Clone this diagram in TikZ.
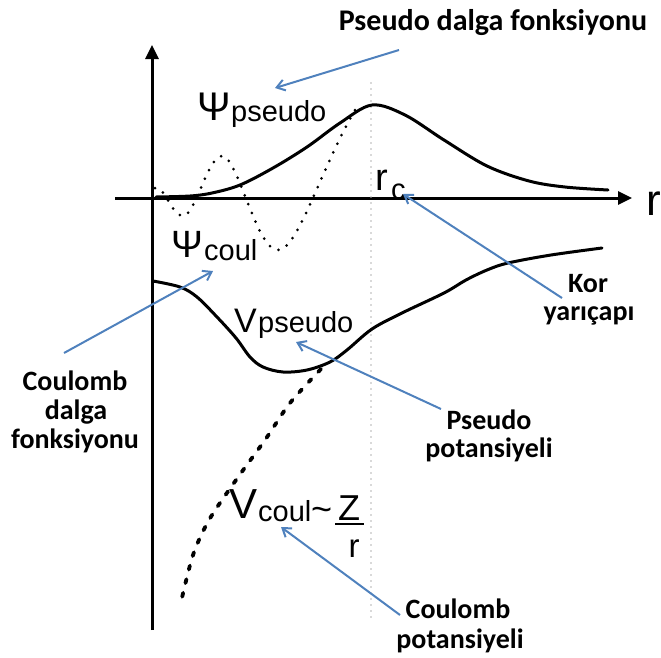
\documentclass[tikz,border=0pt]{standalone}
\usepackage{fontspec}
\setmainfont{Carlito}
\newfontfamily\arialf{Liberation Sans}
\usetikzlibrary{arrows.meta}
\definecolor{bl}{RGB}{79,129,189}
\begin{document}
\begin{tikzpicture}[x=1pt,y=-1pt,
  ax/.style={line width=3pt,-{Triangle[length=14pt,width=13pt]}},
  curve/.style={line width=3pt,line join=round,line cap=round},
  dotc/.style={line width=3pt,line cap=round,dash pattern=on 0pt off 9.5pt},
  dashc/.style={line width=3.8pt,line cap=round,dash pattern=on 4pt off 10pt},
  rcline/.style={gray!60,line width=1.6pt,line cap=round,dash pattern=on 0pt off 6pt},
  ptr/.style={draw=bl,line width=2pt,-{Straight Barb[length=8pt,width=11pt]}},
  lbl/.style={font=\fontsize{28}{30}\selectfont\bfseries,inner sep=0pt,anchor=base},
  sym/.style={font=\arialf\fontsize{40}{40}\selectfont,inner sep=0pt,anchor=base west},
  symv/.style={font=\arialf\fontsize{34}{34}\selectfont,inner sep=0pt,anchor=base west},
  sub/.style={font=\arialf\fontsize{29}{29}\selectfont,inner sep=0pt,anchor=base west},
]
\useasboundingbox (0,0) rectangle (661,657);
% axes
\coordinate (ytop) at (152,45);
\coordinate (ybot) at (152,630);
\coordinate (xl) at (115,198);
\coordinate (xr) at (632,198);
\draw[ax] (ybot) -- (ytop);
\draw[ax] (xl) -- (xr);
\node[font=\arialf\fontsize{44}{44}\selectfont,inner sep=0pt,anchor=base west] (rlab) at (646,215) {r};
% core radius line
\coordinate (rctop) at (371,83);
\coordinate (rcbot) at (371,622);
\draw[rcline] (rctop) -- (rcbot);
\node[font=\arialf\fontsize{38}{38}\selectfont,inner sep=0pt,anchor=base west] (rc) at (375,190) {r};
\node[sub,font=\arialf\fontsize{29}{29}\selectfont] (rcsub) at (391,199) {c};
% pseudo wave function
\draw[curve] plot[smooth,tension=0.55] coordinates {(156,197) (190,196) (212,193) (240,185) (273,168) (307,147) (340,123) (372,105) (405,115) (444,140) (487,166) (529,181) (565,187) (608,190)};
% coulomb wave function (dotted)
\draw[dotc] (155,188) .. controls (165,186) and (172,216) .. (183,216) .. controls (195,216) and (208,156) .. (222,156) .. controls (238,156) and (256,250) .. (278,250) .. controls (298,250) and (320,170) .. (355,110);
% pseudo potential
\draw[curve] plot[smooth,tension=0.55] coordinates {(153,281) (180,287) (197,297) (217,317) (236,338) (250,357) (263,367) (283,372) (307,370) (330,362) (347,350) (372,329) (402,313) (444,293) (466,280) (487,270) (508,263) (551,255) (602,248)};
% coulomb potential (dashed)
\draw[dashc] plot[smooth] coordinates {(321,369) (290,403) (265,440) (236,480) (209,520) (193,555) (181,602)};
% math labels
\node[sym] (psip) at (197,120) {Ψ};
\node[sub] (psipsub) at (231,121) {pseudo};
\node[sym,font=\arialf\fontsize{38}{38}\selectfont] (psic) at (171,257) {Ψ};
\node[sub] (psicsub) at (204,260) {coul};
\node[symv] (vp) at (234,332) {V};
\node[sub] (vpsub) at (258,332) {pseudo};
\node[font=\arialf\fontsize{42}{42}\selectfont,inner sep=0pt,anchor=base west] (vc) at (229,518) {V};
\node[sub] (vcsub) at (258,521) {coul};
\node[font=\arialf\fontsize{36}{36}\selectfont,inner sep=0pt,anchor=base west] (tilde) at (311,521) {\char"7E};
\node[font=\arialf\fontsize{36}{36}\selectfont,inner sep=0pt,anchor=base] (zn) at (349,520) {Z};
\coordinate (barl) at (335,524);
\coordinate (barr) at (364,524);
\draw[line width=1.8pt] (barl) -- (barr);
\node[font=\arialf\fontsize{33}{33}\selectfont,inner sep=0pt,anchor=base] (rd) at (354,557) {r};
% text labels
\node[lbl,font=\fontsize{30}{30}\selectfont\bfseries] (pdf) at (493,30) {Pseudo dalga fonksiyonu};
\node[lbl] (kor1) at (588,292) {Kor};
\node[lbl] (kor2) at (589,320) {yarıçapı};
\node[lbl] (cd1) at (75,390) {Coulomb};
\node[lbl] (cd2) at (76,419) {dalga};
\node[lbl] (cd3) at (75,448) {fonksiyonu};
\node[lbl] (pp1) at (489,429) {Pseudo};
\node[lbl] (pp2) at (489,457) {potansiyeli};
\node[lbl] (cp1) at (458,618) {Coulomb};
\node[lbl] (cp2) at (460,648) {potansiyeli};
% pointer arrows
\coordinate (a1s) at (399,50);  \coordinate (a1e) at (275,88);
\coordinate (a2s) at (562,298); \coordinate (a2e) at (403,194);
\coordinate (a3s) at (64,353);  \coordinate (a3e) at (213,271);
\coordinate (a4s) at (441,409); \coordinate (a4e) at (296,342);
\coordinate (a5s) at (400,615); \coordinate (a5e) at (281,527);
\draw[ptr] (a1s) -- (a1e);
\draw[ptr] (a2s) -- (a2e);
\draw[ptr] (a3s) -- (a3e);
\draw[ptr] (a4s) -- (a4e);
\draw[ptr] (a5s) -- (a5e);
\end{tikzpicture}
\end{document}
